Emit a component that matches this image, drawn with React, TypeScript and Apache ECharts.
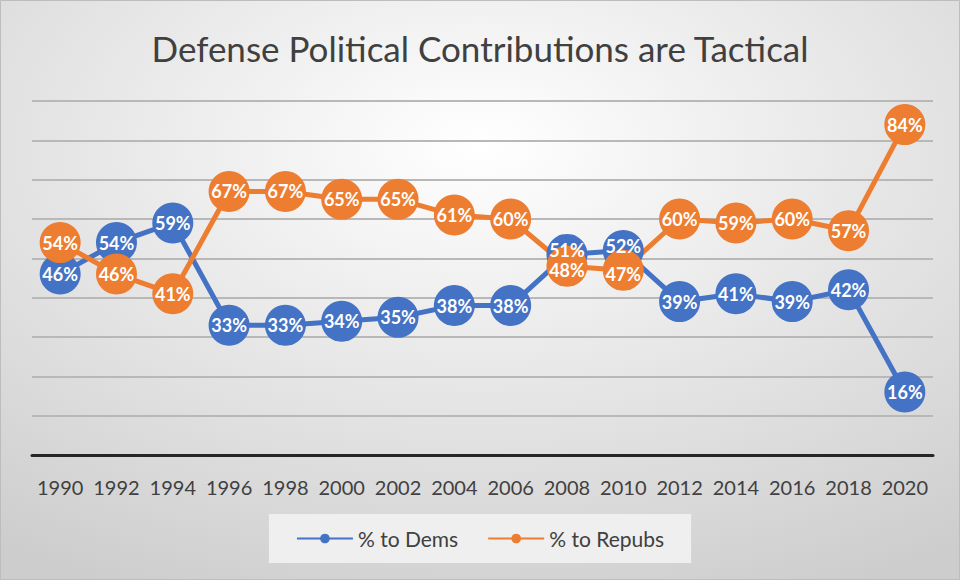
import React, { useEffect, useRef } from "react";
import * as echarts from "echarts";

const years = ["1990", "1992", "1994", "1996", "1998", "2000", "2002", "2004", "2006", "2008", "2010", "2012", "2014", "2016", "2018", "2020"];
const dems = [46, 54, 59, 33, 33, 34, 35, 38, 38, 51, 52, 39, 41, 39, 42, 16];
const repubs = [54, 46, 41, 67, 67, 65, 65, 61, 60, 48, 47, 60, 59, 60, 57, 84];

const FONT = "Lato";

export default function App() {
  const ref = useRef<HTMLDivElement>(null);
  useEffect(() => {
    document.body.style.margin = "0";
    if (!ref.current) return;
    const chart = echarts.init(ref.current, undefined, { renderer: "svg" });
    const label = {
      show: true,
      position: "inside" as const,
      formatter: (p: any) => p.value + "%",
      color: "#ffffff",
      fontSize: 18,
      fontWeight: "bold" as const,
      fontFamily: FONT,
    };
    const close = (i: number) => Math.abs(dems[i] - repubs[i]) < 6;
    const demData = dems.map((v, i) =>
      close(i) ? { value: v, label: { offset: [0, dems[i] > repubs[i] ? -4 : 4] } } : v
    );
    const repData = repubs.map((v, i) =>
      close(i) ? { value: v, label: { offset: [0, repubs[i] > dems[i] ? -4 : 4] } } : v
    );
    chart.setOption({
      animation: false,
      backgroundColor: {
        type: "radial",
        x: 0.5,
        y: 0.25,
        r: 0.85,
        colorStops: [
          { offset: 0, color: "#ffffff" },
          { offset: 1, color: "#cdcdcd" },
        ],
      },
      title: {
        text: "Defense Political Contributions are Tactical",
        left: "center",
        top: 25,
        textStyle: { color: "#404040", fontSize: 35, fontWeight: "normal", fontFamily: FONT },
      },
      graphic: [
        {
          type: "rect",
          shape: { x: 0.5, y: 0.5, width: 959, height: 579 },
          style: { fill: "none", stroke: "#bdbdbd", lineWidth: 1 },
          silent: true,
        },
      ],
      grid: { left: 32, right: 27, top: 101, bottom: 125 },
      xAxis: {
        type: "category",
        data: years,
        boundaryGap: true,
        axisLine: { show: true, lineStyle: { color: "#262626", width: 3 } },
        axisTick: { show: false },
        axisLabel: { interval: 0, color: "#404040", fontSize: 20, fontFamily: FONT, margin: 22 },
      },
      yAxis: {
        type: "value",
        min: 0,
        max: 90,
        interval: 10,
        axisLabel: { show: false },
        axisLine: { show: false },
        axisTick: { show: false },
        splitLine: { show: true, lineStyle: { color: "#b8b8b8", width: 2 } },
      },
      legend: {
        bottom: 17,
        left: "center",
        backgroundColor: "#efefef",
        padding: [14, 27],
        itemGap: 29,
        itemWidth: 56,
        itemHeight: 12,
        textStyle: { color: "#404040", fontSize: 21, fontFamily: FONT },
        data: ["% to Dems", "% to Repubs"],
      },
      series: [
        {
          name: "% to Dems",
          type: "line",
          data: demData,
          symbol: "circle",
          symbolSize: 41,
          showSymbol: true,
          showAllSymbol: true,
          itemStyle: { color: "#4472c4" },
          lineStyle: { color: "#4472c4", width: 5 },
          label,
          z: 2,
        },
        {
          name: "% to Repubs",
          type: "line",
          data: repData,
          symbol: "circle",
          symbolSize: 41,
          showSymbol: true,
          showAllSymbol: true,
          itemStyle: { color: "#ed7d31" },
          lineStyle: { color: "#ed7d31", width: 5 },
          label,
          z: 2,
        },
      ],
    });
    return () => chart.dispose();
  }, []);
  return <div ref={ref} style={{ width: 960, height: 580 }} />;
}
